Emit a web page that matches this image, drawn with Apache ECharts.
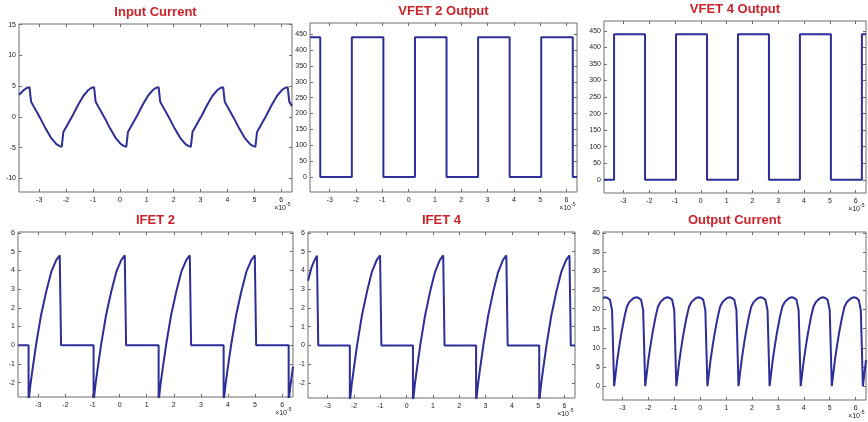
<!DOCTYPE html>
<html>
<head>
<meta charset="utf-8">
<script src="https://cdn.jsdelivr.net/npm/echarts@6/dist/echarts.min.js"></script>
<style>
  html, body { margin: 0; padding: 0; background: #ffffff; }
  #chart { width: 868px; height: 422px; }
</style>
</head>
<body>
<div id="chart"></div>
<script>
// Time is in units of 1e-5 s (shown as "x10^-5" under each axis).
const timeTicks = [-3, -2, -1, 0, 1, 2, 3, 4, 5, 6];

// Input current (A)
const inputT = [-3.75, -3.56, -3.44, -3.36, -3.30, -3.16, -2.96, -2.76, -2.56, -2.36, -2.24, -2.16,
  -2.10, -1.96, -1.76, -1.56, -1.36, -1.16, -1.04, -0.96,
  -0.90, -0.76, -0.56, -0.36, -0.16, 0.04, 0.16, 0.24,
  0.30, 0.44, 0.64, 0.84, 1.04, 1.24, 1.36, 1.44,
  1.50, 1.64, 1.84, 2.04, 2.24, 2.44, 2.56, 2.64,
  2.70, 2.84, 3.04, 3.24, 3.44, 3.64, 3.76, 3.84,
  3.90, 4.04, 4.24, 4.44, 4.64, 4.84, 4.96, 5.04,
  5.10, 5.24, 5.44, 5.64, 5.84, 6.04, 6.16, 6.24,
  6.30, 6.40];
const inputI = [3.6, 4.42, 4.75, 4.84, 2.45, 1.35, -0.2, -1.9, -3.4, -4.42, -4.75, -4.84,
  -2.45, -1.35, 0.2, 1.9, 3.4, 4.42, 4.75, 4.84,
  2.45, 1.35, -0.2, -1.9, -3.4, -4.42, -4.75, -4.84,
  -2.45, -1.35, 0.2, 1.9, 3.4, 4.42, 4.75, 4.84,
  2.45, 1.35, -0.2, -1.9, -3.4, -4.42, -4.75, -4.84,
  -2.45, -1.35, 0.2, 1.9, 3.4, 4.42, 4.75, 4.84,
  2.45, 1.35, -0.2, -1.9, -3.4, -4.42, -4.75, -4.84,
  -2.45, -1.35, 0.2, 1.9, 3.4, 4.42, 4.75, 4.84,
  2.45, 1.75];
const inputTicks = [-10, -5, 0, 5, 10, 15];

// Switch voltages (V)
const vfet2T = [-3.75, -3.36, -3.36, -2.16, -2.16, -0.96, -0.96, 0.24, 0.24, 1.44, 1.44,
  2.64, 2.64, 3.84, 3.84, 5.04, 5.04, 6.24, 6.24, 6.40];
const vfet2V = [440, 440, 0, 0, 440, 440, 0, 0, 440, 440, 0,
  0, 440, 440, 0, 0, 440, 440, 0, 0];
const vfet4T = [-3.75, -3.36, -3.36, -2.16, -2.16, -0.96, -0.96, 0.24, 0.24, 1.44, 1.44,
  2.64, 2.64, 3.84, 3.84, 5.04, 5.04, 6.24, 6.24, 6.40];
const vfet4V = [0, 0, 440, 440, 0, 0, 440, 440, 0, 0, 440,
  440, 0, 0, 440, 440, 0, 0, 440, 440];
const vfetTicks = [0, 50, 100, 150, 200, 250, 300, 350, 400, 450];

// Switch currents (A)
const ifet2T = [-3.75, -3.36, -3.36, -3.29, -3.21, -3.08, -2.90, -2.71, -2.52, -2.34, -2.21, -2.16, -2.16,
  -0.96, -0.96, -0.89, -0.81, -0.68, -0.50, -0.31, -0.12, 0.06, 0.19, 0.24, 0.24,
  1.44, 1.44, 1.51, 1.59, 1.72, 1.90, 2.09, 2.28, 2.46, 2.59, 2.64, 2.64,
  3.84, 3.84, 3.91, 3.99, 4.12, 4.30, 4.49, 4.68, 4.86, 4.99, 5.04, 5.04,
  6.24, 6.24, 6.31, 6.39, 6.40];
const ifet2I = [0, 0, -3.0, -2.1, -1.25, 0.05, 1.6, 2.86, 3.93, 4.55, 4.8, 4.82, 0,
  0, -3.0, -2.1, -1.25, 0.05, 1.6, 2.86, 3.93, 4.55, 4.8, 4.82, 0,
  0, -3.0, -2.1, -1.25, 0.05, 1.6, 2.86, 3.93, 4.55, 4.8, 4.82, 0,
  0, -3.0, -2.1, -1.25, 0.05, 1.6, 2.86, 3.93, 4.55, 4.8, 4.82, 0,
  0, -3.0, -2.1, -1.25, -1.15];
const ifet4T = [-3.75, -3.62, -3.50, -3.41, -3.36, -3.36,
  -2.16, -2.16, -2.09, -2.01, -1.88, -1.70, -1.51, -1.32, -1.14, -1.01, -0.96, -0.96,
  0.24, 0.24, 0.31, 0.39, 0.52, 0.70, 0.89, 1.08, 1.26, 1.39, 1.44, 1.44,
  2.64, 2.64, 2.71, 2.79, 2.92, 3.10, 3.29, 3.48, 3.66, 3.79, 3.84, 3.84,
  5.04, 5.04, 5.11, 5.19, 5.32, 5.50, 5.69, 5.88, 6.06, 6.19, 6.24, 6.24,
  6.40];
const ifet4I = [3.45, 4.15, 4.55, 4.78, 4.82, 0,
  0, -3.0, -2.1, -1.25, 0.05, 1.6, 2.86, 3.93, 4.55, 4.8, 4.82, 0,
  0, -3.0, -2.1, -1.25, 0.05, 1.6, 2.86, 3.93, 4.55, 4.8, 4.82, 0,
  0, -3.0, -2.1, -1.25, 0.05, 1.6, 2.86, 3.93, 4.55, 4.8, 4.82, 0,
  0, -3.0, -2.1, -1.25, 0.05, 1.6, 2.86, 3.93, 4.55, 4.8, 4.82, 0,
  0];
const ifetTicks = [-2, -1, 0, 1, 2, 3, 4, 5, 6];

// Output current (A)
const outT = [-3.75, -3.66, -3.57, -3.48, -3.40,
  -3.32, -3.20, -3.11, -3.02, -2.92, -2.83, -2.74, -2.65, -2.56, -2.46, -2.37, -2.28, -2.20,
  -2.12, -2.00, -1.91, -1.82, -1.72, -1.63, -1.54, -1.45, -1.36, -1.26, -1.17, -1.08, -1.00,
  -0.92, -0.80, -0.71, -0.62, -0.52, -0.43, -0.34, -0.25, -0.16, -0.06, 0.03, 0.12, 0.20,
  0.28, 0.40, 0.49, 0.58, 0.68, 0.77, 0.86, 0.95, 1.04, 1.14, 1.23, 1.32, 1.40,
  1.48, 1.60, 1.69, 1.78, 1.88, 1.97, 2.06, 2.15, 2.24, 2.34, 2.43, 2.52, 2.60,
  2.68, 2.80, 2.89, 2.98, 3.08, 3.17, 3.26, 3.35, 3.44, 3.54, 3.63, 3.72, 3.80,
  3.88, 4.00, 4.09, 4.18, 4.28, 4.37, 4.46, 4.55, 4.64, 4.74, 4.83, 4.92, 5.00,
  5.08, 5.20, 5.29, 5.38, 5.48, 5.57, 5.66, 5.75, 5.84, 5.94, 6.03, 6.12, 6.20,
  6.28, 6.40];
const outI = [23.0, 23.2, 23.0, 22.5, 19.8,
  0, 6.8, 10.9, 14.6, 18.1, 20.7, 21.9, 22.5, 23.0, 23.2, 23.0, 22.5, 19.8,
  0, 6.8, 10.9, 14.6, 18.1, 20.7, 21.9, 22.5, 23.0, 23.2, 23.0, 22.5, 19.8,
  0, 6.8, 10.9, 14.6, 18.1, 20.7, 21.9, 22.5, 23.0, 23.2, 23.0, 22.5, 19.8,
  0, 6.8, 10.9, 14.6, 18.1, 20.7, 21.9, 22.5, 23.0, 23.2, 23.0, 22.5, 19.8,
  0, 6.8, 10.9, 14.6, 18.1, 20.7, 21.9, 22.5, 23.0, 23.2, 23.0, 22.5, 19.8,
  0, 6.8, 10.9, 14.6, 18.1, 20.7, 21.9, 22.5, 23.0, 23.2, 23.0, 22.5, 19.8,
  0, 6.8, 10.9, 14.6, 18.1, 20.7, 21.9, 22.5, 23.0, 23.2, 23.0, 22.5, 19.8,
  0, 6.8, 10.9, 14.6, 18.1, 20.7, 21.9, 22.5, 23.0, 23.2, 23.0, 22.5, 19.8,
  0, 6.8];
const outTicks = [0, 5, 10, 15, 20, 25, 30, 35, 40];

const pairs = (xs, ys) => xs.map((x, i) => [x, ys[i]]);

// Panel layout: plot box [left, top, width, height] and y-range for each subplot
const panels = [
  { title: 'Input Current', box: [19, 24, 273, 168], yMin: -12.2, yMax: 15.1, ticks: inputTicks, data: pairs(inputT, inputI) },
  { title: 'VFET 2 Output', box: [310, 23, 267, 169], yMin: -47, yMax: 485, ticks: vfetTicks, data: pairs(vfet2T, vfet2V) },
  { title: 'VFET 4 Output', box: [604, 21, 262, 172], yMin: -40, yMax: 480, ticks: vfetTicks, data: pairs(vfet4T, vfet4V) },
  { title: 'IFET 2', box: [18, 232, 275, 165], yMin: -2.77, yMax: 6.05, ticks: ifetTicks, data: pairs(ifet2T, ifet2I) },
  { title: 'IFET 4', box: [308, 232, 267, 166], yMin: -2.8, yMax: 6.05, ticks: ifetTicks, data: pairs(ifet4T, ifet4I) },
  { title: 'Output Current', box: [603, 232, 263, 168], yMin: -3.6, yMax: 40.2, ticks: outTicks, data: pairs(outT, outI) }
];

const X_MIN = -3.75, X_MAX = 6.4;
const axisGray = '#6e6e6e';
const traceColor = '#2e2e98';
const titleRed = '#cc2229';
const labelStyle = { fontSize: 7, color: '#222', fontFamily: 'Liberation Sans, Arial, sans-serif' };

const grid = [], xAxis = [], yAxis = [], series = [], graphic = [];

panels.forEach((p, i) => {
  const [l, t, w, h] = p.box;
  grid.push({ left: l, top: t, width: w, height: h, show: true, borderColor: axisGray, borderWidth: 1, containLabel: false });

  const tickIn = (vals) => ({ show: true, inside: true, length: 3, customValues: vals, lineStyle: { color: axisGray, width: 1 } });

  // bottom x axis with labels, top x axis with ticks only
  xAxis.push({
    type: 'value', gridIndex: i, position: 'bottom', min: X_MIN, max: X_MAX,
    axisLine: { show: false, onZero: false }, splitLine: { show: false },
    axisTick: tickIn(timeTicks),
    axisLabel: Object.assign({ show: true, margin: 5, customValues: timeTicks }, labelStyle)
  });
  xAxis.push({
    type: 'value', gridIndex: i, position: 'top', min: X_MIN, max: X_MAX,
    axisLine: { show: false, onZero: false }, splitLine: { show: false },
    axisTick: tickIn(timeTicks), axisLabel: { show: false }
  });
  // left y axis with labels, right y axis with ticks only
  yAxis.push({
    type: 'value', gridIndex: i, position: 'left', min: p.yMin, max: p.yMax,
    axisLine: { show: false, onZero: false }, splitLine: { show: false },
    axisTick: tickIn(p.ticks),
    axisLabel: Object.assign({ show: true, margin: 3, customValues: p.ticks }, labelStyle)
  });
  yAxis.push({
    type: 'value', gridIndex: i, position: 'right', min: p.yMin, max: p.yMax,
    axisLine: { show: false, onZero: false }, splitLine: { show: false },
    axisTick: tickIn(p.ticks), axisLabel: { show: false }
  });

  series.push({
    type: 'line', name: p.title, xAxisIndex: 2 * i, yAxisIndex: 2 * i,
    data: p.data, showSymbol: false, symbol: 'none', clip: true,
    lineStyle: { color: traceColor, width: 2 }, z: 3
  });

  // subplot title
  graphic.push({
    type: 'text', x: l + w / 2, y: t - 12,
    style: { text: p.title, fill: titleRed, font: 'bold 13px "Liberation Sans", Arial, sans-serif', align: 'center', verticalAlign: 'middle' }
  });
  // time-axis exponent
  graphic.push({
    type: 'text', x: l + w - 6, y: t + h + 16,
    style: { text: '\u00d710', fill: '#222', font: '7px "Liberation Sans", Arial, sans-serif', align: 'right', verticalAlign: 'middle' }
  });
  graphic.push({
    type: 'text', x: l + w - 6, y: t + h + 13,
    style: { text: '-5', fill: '#222', font: '5px "Liberation Sans", Arial, sans-serif', align: 'left', verticalAlign: 'middle' }
  });
});

const chart = echarts.init(document.getElementById('chart'), null, { renderer: 'canvas' });
chart.setOption({
  backgroundColor: '#ffffff',
  animation: false,
  grid, xAxis, yAxis, series, graphic
});
</script>
</body>
</html>
